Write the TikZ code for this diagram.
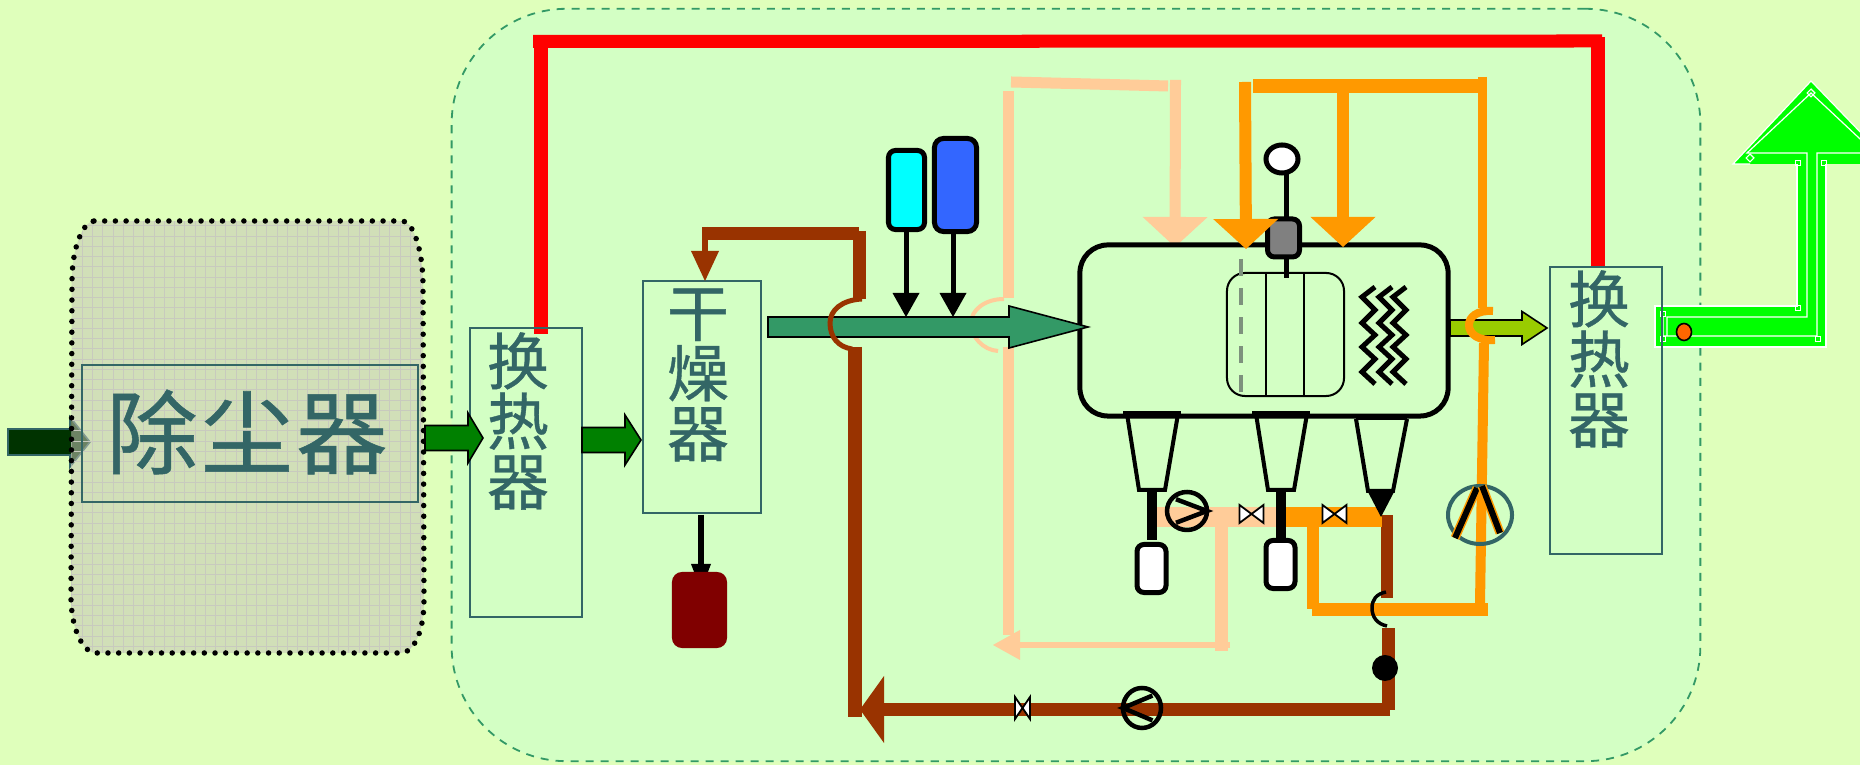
\documentclass[tikz,border=0pt]{standalone}
\usepackage{fontspec}
\newfontfamily\cjk[FakeBold=0.6]{Noto Sans CJK SC}
\usetikzlibrary{arrows.meta, shapes.geometric}
\definecolor{outerbg}{HTML}{DFFFBB}
\definecolor{plantbg}{HTML}{D3FFC4}
\definecolor{plantedge}{HTML}{339966}
\definecolor{inkteal}{HTML}{336666}
\definecolor{dustfill}{RGB}{198,197,182}
\definecolor{gridgrey}{RGB}{200,202,190}
\definecolor{fluered}{HTML}{FF0000}
\definecolor{brownpipe}{HTML}{993300}
\definecolor{peachpipe}{HTML}{FFCC99}
\definecolor{orangepipe}{HTML}{FF9900}
\definecolor{limepipe}{HTML}{99CC00}
\definecolor{stackgreen}{HTML}{00FF00}
\definecolor{bindark}{HTML}{800000}
\definecolor{tankblue}{HTML}{3366FF}
\definecolor{tankcyan}{HTML}{00FFFF}
\definecolor{flowdeep}{HTML}{003300}
\definecolor{flowmid}{HTML}{008000}
\definecolor{probeorange}{HTML}{FF6600}
\definecolor{liftgrey}{RGB}{125,145,125}
\newcommand{\flowarrow}[7]{\draw[#1] (#2,#5-#6) -- (#3,#5-#6) -- (#3,#5-#7) -- (#4,#5) -- (#3,#5+#7) -- (#3,#5+#6) -- (#2,#5+#6) -- cycle;}
\begin{document}
\begin{tikzpicture}[x=.01cm, y=-.01cm,
    unitbox/.style={draw=inkteal, line width=.016cm, inner sep=0pt},
    unittext/.style={font=\cjk\fontsize{17.6}{17.1}\selectfont, text=inkteal, align=center, inner sep=0pt},
    tank/.style={draw=black, line width=.05cm, rounded corners=.07cm, inner sep=0pt},
    redpipe/.style={draw=fluered, line width=.14cm},
    brownline/.style={draw=brownpipe, line width=.13cm},
    peachline/.style={draw=peachpipe, line width=.11cm},
    orangeline/.style={draw=orangepipe, line width=.12cm},
    bighead/.style={-{Triangle[length=.30cm, width=.65cm, line width=0pt]}},
    blackfeed/.style={draw=black, line width=.05cm, -{Triangle[length=.24cm, width=.27cm, line width=0pt]}},
    flowdark/.style={draw=inkteal, line width=.016cm, fill=flowdeep},
    flowgreen/.style={draw=black, line width=.016cm, fill=flowmid},
    handle/.style={draw=white, line width=.012cm, minimum size=.055cm, inner sep=0pt},
    valve/.pic={\draw[draw=black, fill=white, line width=.018cm] (-1,-1) -- (1,1) -- (1,-1) -- (-1,1) -- cycle;},
    pump/.pic={\draw[draw=black, line width=.045cm] (0,0) circle (1);
               \draw[draw=black, line width=.045cm] (-.55,-.62) -- (1,0) -- (-.55,.62);},
  ]
  \clip (0,0) rectangle (1860,765);
  \fill[outerbg] (0,0) rectangle (1860,765);
  \node[draw=plantedge, fill=plantbg, line width=.018cm, dash pattern=on .08cm off .07cm, rounded corners=1.15cm,
        minimum width=12.48cm, minimum height=7.52cm, inner sep=0pt] (plant) at (1076,385) {};

  % dust collector
  \flowarrow{flowdark}{8}{70}{90}{442}{13}{25}
  \def\dustpath{(94,221) -- (403,221) .. controls (413,222) and (423,250) .. (423,285) -- (424,600) .. controls (424,632) and (414,653) .. (400,653) -- (96,653) .. controls (84,653) and (72,632) .. (71,600) -- (72,280) .. controls (72,250) and (82,222) .. (94,221) -- cycle}
  \fill[dustfill, fill opacity=.55] \dustpath;
  \begin{scope}
    \clip \dustpath;
    \draw[gridgrey, line width=.006cm, step=.1025cm] (71,221) grid (424,653);
  \end{scope}
  \draw[black, line width=.055cm, line cap=round, dash pattern=on 0pt off .107cm] \dustpath;
  \node[unitbox, minimum width=3.36cm, minimum height=1.37cm] (dust) at (250,433.5) {};
  \node[unittext, font=\cjk\fontsize{26}{26}\selectfont] (dustT) at (247,432) {除\hspace{1pt}尘\hspace{1pt}器};

  % flue gas pipe
  \coordinate (redA) at (541,334); \coordinate (redB) at (541,35);
  \coordinate (redC) at (533,41.5); \coordinate (redD) at (1602,41);
  \coordinate (redE) at (1597.5,37); \coordinate (redF) at (1597.5,267);
  \draw[redpipe] (redA) -- (redB);
  \draw[redpipe, line width=.13cm] (redC) -- (redD);
  \draw[redpipe] (redE) -- (redF);

  % stack
  \fill[stackgreen] (1655,306) -- (1797,306) -- (1797,164) -- (1733,164) -- (1811,81) -- (1891,164) -- (1826,164) -- (1826,347) -- (1655,347) -- cycle;
  \draw[white, line width=.012cm] (1750,164) -- (1733,164) -- (1811,81) -- (1891,164);
  \draw[white, line width=.012cm] (1797,164) -- (1797,306) -- (1655,306) -- (1655,347) -- (1826,347) -- (1826,164);
  \draw[white, line width=.012cm] (1667,336) -- (1667,317) -- (1807,317) -- (1807,153) -- (1747,153) -- (1811,93) -- (1875,153) -- (1817,153) -- (1817,336) -- (1663,336) -- (1663,317);
  \foreach \hx/\hy in {1798/163,1824/163,1798/308,1818/339,1663/314,1663/339}
    \node[handle] (grip\hx\hy) at (\hx,\hy) {};
  \node[handle, rotate=45] (gripA) at (1811,93) {};
  \node[handle, rotate=45] (gripB) at (1750,158) {};
  \node[draw=black, fill=probeorange, line width=.016cm, ellipse, minimum width=.15cm, minimum height=.17cm, inner sep=0pt] (probe) at (1684,332) {};

  % heat exchangers and dryer
  \node[unitbox, minimum width=1.12cm, minimum height=2.89cm] (hxa) at (526,472.5) {};
  \node[unitbox, minimum width=1.18cm, minimum height=2.32cm] (dryer) at (702,397) {};
  \node[unitbox, minimum width=1.12cm, minimum height=2.87cm] (hxb) at (1606,410.5) {};
  \node[unittext] (hxaT) at (518,421) {换\\热\\器};
  \node[unittext] (dryerT) at (698,375) {干\\燥\\器};
  \node[unittext] (hxbT) at (1599,359) {换\\热\\器};
  \flowarrow{flowgreen}{425}{468}{483}{438}{12.5}{25}
  \flowarrow{flowgreen}{582}{625}{641}{440}{12.5}{25}

  % dryer outlet and bin
  \coordinate (dropA) at (701,515); \coordinate (dropB) at (701,590);
  \draw[black, line width=.06cm, -{Triangle[length=.26cm, width=.20cm, line width=0pt]}] (dropA) -- (dropB);
  \node[fill=bindark, rounded corners=.1cm, minimum width=.55cm, minimum height=.76cm, inner sep=0pt] (bin) at (699.5,610) {};

  % peach return line
  \coordinate (pchA) at (1011,82); \coordinate (pchB) at (1168,86);
  \coordinate (pchC) at (1175.5,80); \coordinate (pchD) at (1175,247);
  \coordinate (pchE) at (1008.5,91); \coordinate (pchF) at (1008.5,298);
  \coordinate (pchG) at (1008,347); \coordinate (pchH) at (1008,635);
  \coordinate (pchI) at (1230,645); \coordinate (pchJ) at (993,645);
  \coordinate (pchK) at (1221.5,527); \coordinate (pchL) at (1221.5,651);
  \coordinate (pchM) at (1152,517); \coordinate (pchN) at (1280,517);
  \draw[peachline] (pchA) -- (pchB);
  \draw[peachline, bighead] (pchC) -- (pchD);
  \draw[peachline] (pchE) -- (pchF);
  \draw[peachline, line width=.04cm] (1004,299) .. controls (985,299) and (971,310) .. (971,323) .. controls (971,337) and (983,350) .. (998,351);
  \draw[peachline] (pchG) -- (pchH);
  \draw[peachline, line width=.06cm, -{Triangle[length=.27cm, width=.30cm, line width=0pt]}] (pchI) -- (pchJ);
  \draw[peachline, line width=.13cm] (pchK) -- (pchL);
  \draw[peachline, line width=.20cm] (pchM) -- (pchN);

  % reactor
  \node[tank, rounded corners=.28cm, minimum width=3.68cm, minimum height=1.71cm] (reactor) at (1264,330.5) {};
  \node[draw=black, line width=.02cm, rounded corners=.18cm, minimum width=1.17cm, minimum height=1.23cm, inner sep=0pt] (liner) at (1285.5,334.5) {};
  \draw[black, line width=.02cm] (1266,273) -- (1266,396);
  \draw[black, line width=.02cm] (1304,273) -- (1304,396);
  \draw[liftgrey, line width=.035cm, dash pattern=on .17cm off .12cm] (1241,259) -- (1241,396);
  \foreach \cx in {1362,1379,1393}
    \draw[black, line width=.05cm] (\cx+13,287) -- (\cx,297) -- (\cx+13,310) -- (\cx,323) -- (\cx+13,335) -- (\cx,347) -- (\cx+13,359) -- (\cx,372) -- (\cx+13,384);
  % stirrer
  \coordinate (stirA) at (1286,172); \coordinate (stirB) at (1286,278);
  \draw[black, line width=.05cm] (stirA) -- (stirB);
  \node[draw=black, fill=white, line width=.05cm, ellipse, minimum width=.32cm, minimum height=.28cm, inner sep=0pt] (gauge) at (1282,159) {};
  \node[tank, fill=gray, minimum width=.32cm, minimum height=.38cm] (motor) at (1283.5,238) {};

  % solids feed
  \node[tank, fill=tankcyan, minimum width=.36cm, minimum height=.79cm] (tanka) at (906.5,190) {};
  \node[tank, fill=tankblue, rounded corners=.09cm, minimum width=.42cm, minimum height=.93cm] (tankb) at (955.5,185) {};
  \coordinate (tipA) at (906,317); \coordinate (tipB) at (953,317);
  \draw[blackfeed] (tipA |- tanka.south) -- (tipA);
  \draw[blackfeed] (tipB |- tankb.south) -- (tipB);

  % main feed
  \flowarrow{draw=black, line width=.016cm, fill=plantedge}{768}{1009}{1088}{327}{10}{21}
  \coordinate (brnA) at (702,233.5); \coordinate (brnB) at (859,233.5);
  \coordinate (brnC) at (705,227); \coordinate (brnD) at (705,281);
  \coordinate (brnE) at (859.5,231); \coordinate (brnF) at (859.5,299);
  \coordinate (brnG) at (855,347); \coordinate (brnH) at (855,717);
  \coordinate (brnI) at (1390,709.5); \coordinate (brnJ) at (860,709.5);
  \coordinate (brnK) at (1388.5,710); \coordinate (brnL) at (1388.5,628);
  \coordinate (brnM) at (1387,598); \coordinate (brnN) at (1387,515);
  \draw[brownline] (brnA) -- (brnB);
  \draw[brownline, line width=.06cm, -{Triangle[length=.30cm, width=.28cm, line width=0pt]}] (brnC) -- (brnD);
  \draw[brownline] (brnE) -- (brnF);
  \draw[brownline, line width=.05cm] (862,299) .. controls (842,300) and (830,310) .. (830,323) .. controls (830,337) and (838,347) .. (852,349);
  \draw[brownline, line width=.14cm] (brnG) -- (brnH);
  \draw[brownline, -{Triangle[length=.24cm, width=.67cm, line width=0pt]}] (brnI) -- (brnJ);
  \draw[brownline] (brnK) -- (brnL);
  \draw[brownline, line width=.12cm] (brnM) -- (brnN);

  % orange lines
  \coordinate (orgA) at (1253,86); \coordinate (orgB) at (1482,86);
  \coordinate (orgC) at (1482.5,77); \coordinate (orgD) at (1482.5,308);
  \coordinate (orgE) at (1245,82); \coordinate (orgF) at (1246,249);
  \coordinate (orgG) at (1343,93); \coordinate (orgH) at (1343,247);
  \coordinate (orgI) at (1484,343); \coordinate (orgJ) at (1480,604);
  \coordinate (orgK) at (1312,609.5); \coordinate (orgL) at (1488,609.5);
  \coordinate (orgM) at (1313,527); \coordinate (orgN) at (1313,609);
  \coordinate (orgO) at (1280,517); \coordinate (orgP) at (1382,517);
  \draw[orangeline, line width=.14cm] (orgA) -- (orgB);
  \draw[orangeline, line width=.09cm] (orgC) -- (orgD);
  \draw[orangeline, bighead] (orgE) -- (orgF);
  \draw[orangeline, bighead] (orgG) -- (orgH);
  \draw[orangeline, line width=.10cm] (orgI) -- (orgJ);
  \draw[orangeline, line width=.13cm] (orgK) -- (orgL);
  \draw[orangeline] (orgM) -- (orgN);
  \draw[orangeline, line width=.20cm] (orgO) -- (orgP);
  \flowarrow{draw=black, line width=.016cm, fill=limepipe}{1450}{1522}{1547}{328}{8}{16.5}
  \draw[orangeline, line width=.08cm] (1493,311) .. controls (1477,310) and (1469,317) .. (1469,325) .. controls (1469,334) and (1478,341) .. (1495,340);
  \draw[black, line width=.035cm] (1386,592) .. controls (1376,594) and (1372,600) .. (1372,608) .. controls (1372,617) and (1377,624) .. (1387,626);
  \node[fill=black, circle, minimum size=.26cm, inner sep=0pt] (trap) at (1385,668) {};

  % cooler on the orange line
  \node[draw=inkteal, line width=.04cm, ellipse, minimum width=.64cm, minimum height=.58cm, inner sep=0pt] (cooler) at (1480,515) {};
  \coordinate (clrA) at (1477,488); \coordinate (clrB) at (1455,538);
  \coordinate (clrC) at (1482,486); \coordinate (clrD) at (1500,533);
  \foreach \a/\b in {clrA/clrB,clrC/clrD} {
    \draw[orangepipe, line width=.09cm] (\a) -- (\b);
    \draw[black, line width=.06cm] (\a) -- (\b);
  }

  % cyclones
  \foreach \cx/\bx/\by/\n in {1152/1151.5/568.5/a,1281/1280.5/564.5/b} {
    \draw[black, line width=.04cm] (\cx-25,414) -- (\cx-13,490) -- (\cx+13,490) -- (\cx+26,414);
    \draw[black, line width=.05cm] (\cx-29,414) -- (\cx+29,414);
    \draw[black, line width=.10cm] (\cx,490) -- (\cx,540);
    \node[tank, fill=white, minimum width=.29cm, minimum height=.48cm] (bottle\n) at (\bx,\by) {};
  }
  \draw[black, line width=.04cm] (1407,419) -- (1393,491) -- (1368,491) -- (1356,419);
  \draw[black, line width=.015cm] (1356,419) -- (1407,419);
  \coordinate (cycA) at (1381,491); \coordinate (cycB) at (1381,517);
  \draw[black, line width=.02cm, -{Triangle[length=.24cm, width=.25cm, line width=0pt]}] (cycA) -- (cycB);

  % fittings
  \pic[xscale=12, yscale=9] (valveA) at (1251.5,514) {valve};
  \pic[xscale=12, yscale=9] (valveB) at (1334.5,514) {valve};
  \pic[xscale=7.5, yscale=11] (valveC) at (1022.5,708) {valve};
  \pic[xscale=20, yscale=19] (pumpA) at (1187,511) {pump};
  \pic[xscale=-19, yscale=20] (pumpB) at (1142,708) {pump};
\end{tikzpicture}
\end{document}
